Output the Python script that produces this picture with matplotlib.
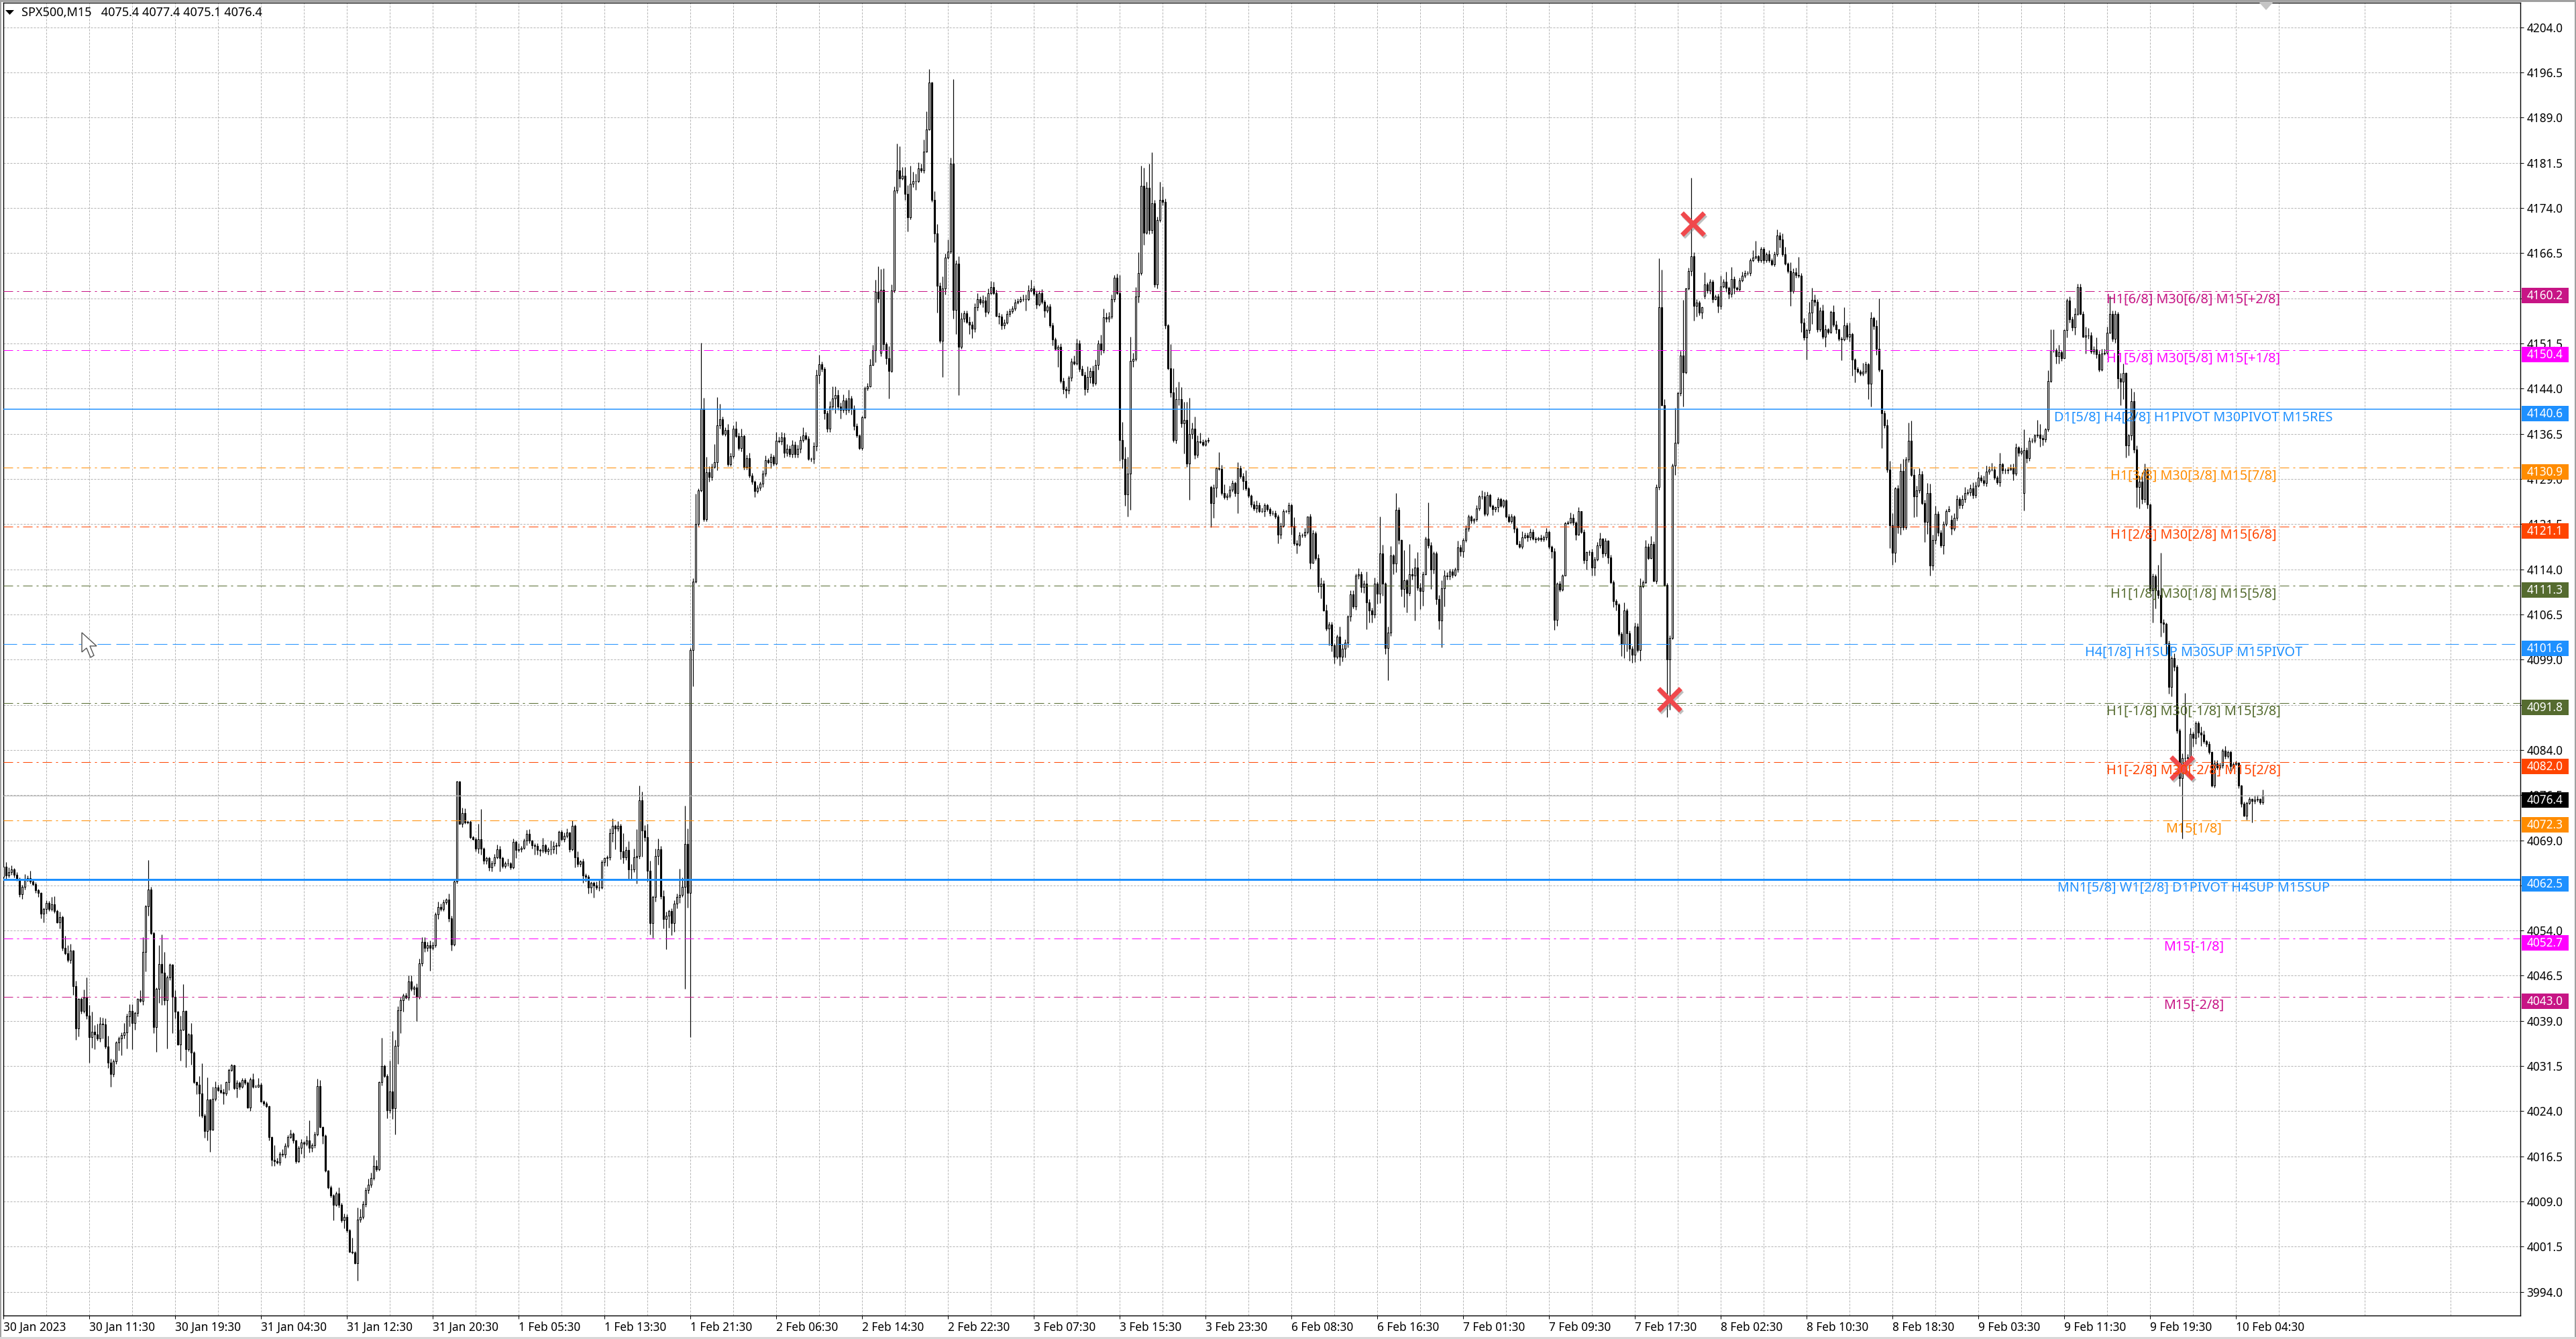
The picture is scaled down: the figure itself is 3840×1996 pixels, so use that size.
import numpy as np
import matplotlib
matplotlib.use('Agg')
import matplotlib.pyplot as plt
import matplotlib.patheffects as pe
from matplotlib.patches import Rectangle, Polygon
from matplotlib.transforms import IdentityTransform

W, H = 3840, 1996
FONT = 'Noto Sans'

# M15 closes, one row per 10 bars
closes = [
    4064.6,4063.1,4063.7,4064.2,4063.3,4062.6,4060.0,4061.3,4062.6,4062.7,
    4062.2,4061.7,4060.7,4060.3,4056.8,4057.6,4058.6,4057.6,4058.4,4057.2,
    4055.3,4056.3,4051.1,4050.2,4049.1,4050.7,4044.8,4037.8,4042.6,4040.6,
    4042.9,4039.9,4036.3,4037.2,4036.7,4036.1,4038.5,4038.4,4034.7,4032.1,
    4030.2,4032.3,4035.4,4036.1,4036.6,4037.1,4039.8,4040.7,4038.6,4040.3,
    4042.6,4042.3,4050.5,4058.0,4060.8,4053.6,4038.0,4044.3,4048.4,4047.0,
    4042.4,4046.2,4048.3,4043.0,4040.5,4035.1,4037.5,4040.7,4034.3,4036.7,
    4033.7,4028.8,4028.4,4027.0,4023.3,4020.7,4025.9,4020.9,4026.0,4027.9,
    4027.5,4027.2,4026.9,4028.8,4030.8,4031.6,4027.8,4028.7,4028.1,4029.2,
    4028.7,4024.6,4029.3,4028.1,4028.1,4028.4,4025.6,4025.3,4024.8,4019.7,
    4015.9,4015.7,4015.5,4016.9,4016.8,4018.2,4019.7,4020.3,4019.1,4015.7,
    4017.9,4018.8,4018.6,4019.2,4017.9,4018.4,4020.1,4028.2,4021.4,4019.9,
    4014.1,4011.4,4010.0,4008.5,4010.4,4008.4,4005.9,4006.4,4004.2,4000.7,
    4000.5,3998.8,4006.0,4006.5,4008.6,4010.9,4011.8,4012.9,4014.9,4014.4,
    4028.8,4031.5,4029.8,4024.2,4027.3,4024.5,4034.9,4040.8,4042.4,4043.2,
    4042.9,4045.6,4044.3,4044.6,4043.0,4048.6,4052.1,4051.1,4051.6,4051.1,
    4051.6,4056.7,4057.9,4057.6,4058.7,4059.1,4056.0,4051.7,4062.1,4078.8,
    4071.7,4073.5,4072.0,4072.1,4069.5,4069.2,4067.6,4069.2,4067.6,4065.6,
    4066.0,4064.5,4065.2,4066.2,4067.5,4066.1,4064.7,4065.2,4065.2,4064.5,
    4068.7,4067.4,4067.5,4067.7,4069.0,4070.1,4068.9,4068.2,4068.1,4067.4,
    4067.3,4068.2,4067.2,4067.5,4067.5,4068.0,4068.2,4070.4,4069.2,4069.7,
    4070.3,4067.5,4071.4,4066.2,4065.1,4065.5,4063.1,4062.9,4061.1,4061.9,
    4061.5,4061.1,4061.2,4065.4,4066.0,4066.2,4070.2,4071.4,4071.0,4071.4,
    4067.2,4066.2,4067.4,4064.1,4064.2,4066.2,4066.4,4075.6,4070.6,4069.5,
    4063.9,4055.2,4059.6,4066.4,4067.5,4059.7,4055.9,4056.5,4057.2,4055.2,
    4058.5,4059.6,4059.9,4061.3,4068.4,4060.3,4100.6,4112.0,4121.5,4127.1,
    4140.7,4122.3,4130.1,4129.3,4131.0,4131.8,4137.9,4138.9,4136.5,4137.1,
    4131.4,4132.8,4137.4,4136.1,4134.1,4136.1,4131.0,4132.5,4129.5,4128.5,
    4127.0,4127.5,4128.2,4129.9,4132.1,4131.8,4132.7,4131.5,4135.3,4135.2,
    4135.9,4133.3,4134.0,4133.1,4134.7,4133.1,4134.0,4135.4,4136.2,4135.7,
    4132.3,4132.3,4134.5,4146.3,4148.0,4147.3,4139.9,4137.3,4141.0,4142.4,
    4142.9,4141.0,4140.5,4142.0,4140.5,4142.4,4140.7,4137.8,4136.2,4134.1,
    4139.2,4144.0,4144.4,4147.9,4150.4,4160.1,4159.0,4160.4,4151.4,4149.0,
    4146.9,4160.3,4176.9,4180.2,4178.9,4179.3,4176.3,4172.4,4178.0,4178.5,
    4178.5,4180.6,4180.2,4183.4,4187.0,4194.8,4175.3,4169.8,4161.1,4151.9,
    4160.6,4165.8,4166.8,4181.4,4157.1,4164.8,4150.9,4155.6,4156.5,4155.1,
    4154.6,4153.9,4157.5,4158.8,4158.3,4158.6,4156.7,4159.9,4160.9,4159.9,
    4156.1,4155.9,4154.5,4155.0,4156.4,4156.8,4157.3,4158.3,4158.5,4158.8,
    4158.9,4158.9,4160.3,4160.6,4159.7,4158.0,4159.9,4158.4,4156.9,4157.6,
    4154.5,4152.2,4150.6,4150.9,4145.3,4143.9,4143.7,4145.8,4148.5,4148.2,
    4151.5,4147.3,4146.3,4143.9,4145.9,4146.9,4144.9,4147.9,4151.5,4150.4,
    4155.8,4155.6,4155.9,4158.8,4162.4,4159.9,4135.5,4132.3,4126.4,4129.9,
    4148.6,4148.9,4159.3,4163.2,4177.7,4169.9,4177.3,4170.3,4174.8,4161.3,
    4172.0,4175.3,4175.0,4154.5,4147.4,4143.4,4135.5,4142.2,4142.2,4138.2,
    4138.8,4131.5,4136.5,4137.3,4133.0,4135.2,4135.1,4134.7,4135.3,4135.5,
    4125.0,4127.5,4130.8,4130.7,4126.6,4126.0,4126.2,4127.2,4128.3,4126.6,
    4130.8,4129.4,4128.7,4127.4,4126.2,4124.8,4124.1,4124.7,4123.6,4123.7,
    4124.6,4124.0,4123.3,4123.3,4122.7,4119.8,4121.2,4123.6,4123.6,4124.6,
    4121.2,4118.3,4118.1,4119.6,4119.6,4120.2,4122.7,4115.1,4120.0,4115.8,
    4111.2,4111.6,4107.2,4104.1,4104.8,4101.4,4099.5,4102.8,4099.5,4100.8,
    4101.8,4106.2,4109.8,4107.8,4113.0,4113.2,4111.1,4111.6,4108.5,4107.2,
    4106.5,4111.6,4109.9,4116.6,4111.6,4100.9,4103.5,4116.3,4115.0,4123.9,
    4118.8,4110.7,4112.2,4110.1,4113.2,4113.0,4114.3,4110.9,4110.4,4113.2,
    4119.1,4118.0,4114.0,4116.6,4109.1,4105.5,4110.8,4113.0,4112.8,4113.6,
    4113.1,4114.0,4117.6,4117.0,4118.8,4120.8,4122.7,4122.1,4122.3,4124.1,
    4126.1,4126.1,4123.2,4126.3,4124.5,4124.0,4124.3,4125.6,4124.5,4125.4,
    4122.8,4122.0,4122.7,4120.8,4118.2,4117.7,4119.3,4119.6,4119.3,4120.2,
    4119.1,4119.0,4119.2,4119.0,4119.3,4120.2,4117.7,4117.0,4105.6,4111.6,
    4110.6,4113.0,4121.6,4121.8,4122.5,4121.7,4119.8,4123.6,4120.2,4115.5,
    4116.8,4116.9,4114.3,4115.6,4118.0,4119.1,4116.6,4118.7,4116.0,4111.8,
    4108.7,4108.2,4103.3,4101.6,4107.2,4103.4,4100.8,4099.8,4104.5,4100.6,
    4111.2,4111.8,4117.7,4115.9,4118.2,4112.1,4127.7,4157.5,4141.3,4111.4,
    4099.0,4102.6,4131.2,4135.0,4143.2,4149.5,4146.7,4160.6,4163.5,4166.0,
    4157.7,4158.3,4156.6,4157.5,4161.3,4160.3,4161.7,4158.9,4159.3,4157.7,
    4161.0,4161.8,4160.7,4159.7,4162.2,4160.7,4160.5,4162.0,4162.7,4163.2,
    4163.2,4165.3,4165.8,4166.0,4165.3,4167.2,4165.3,4166.3,4165.3,4164.6,
    4166.3,4169.4,4168.8,4166.3,4164.7,4163.5,4160.2,4163.3,4162.9,4162.7,
    4154.9,4152.5,4153.7,4156.6,4158.7,4158.4,4153.8,4157.0,4152.6,4153.8,
    4153.4,4156.7,4154.6,4153.8,4152.3,4152.2,4154.5,4152.6,4153.1,4148.8,
    4147.3,4146.8,4146.5,4146.8,4148.0,4144.8,4155.7,4154.4,4150.6,4147.1,
    4139.9,4137.9,4130.5,4121.3,4116.7,4127.4,4121.0,4130.3,4121.0,4132.2,
    4135.3,4129.7,4126.1,4127.1,4129.8,4125.0,4121.9,4126.7,4114.6,4118.8,
    4123.2,4120.1,4118.0,4121.5,4123.7,4124.0,4120.7,4122.5,4125.6,4124.6,
    4125.6,4126.6,4126.8,4127.4,4126.3,4127.9,4129.2,4128.8,4128.3,4130.2,
    4130.6,4130.6,4129.2,4128.4,4131.4,4130.4,4130.4,4130.6,4130.8,4129.9,
    4134.2,4133.3,4133.7,4133.8,4132.4,4135.3,4135.3,4136.2,4136.3,4135.8,
    4135.6,4137.2,4145.3,4150.4,4150.4,4149.4,4150.1,4149.1,4153.7,4158.6,
    4155.5,4154.2,4156.4,4160.8,4156.4,4152.6,4152.8,4152.8,4150.2,4150.5,
    4149.7,4147.1,4149.8,4149.9,4153.3,4156.4,4152.3,4156.4,4145.7,4145.2,
    4146.6,4134.6,4136.2,4141.9,4133.9,4127.7,4128.6,4125.6,4130.5,4124.8,
    4110.5,4112.8,4110.5,4109.7,4105.2,4104.9,4101.7,4094.5,4099.2,4097.8,
    4087.2,4079.3,4082.7,4082.7,4082.8,4086.7,4086.0,4088.4,4086.9,4086.6,
    4085.4,4085.0,4083.6,4078.1,4081.8,4081.1,4081.4,4083.9,4083.0,4083.6,
    4081.3,4081.7,4081.9,4078.1,4075.1,4073.1,4075.2,4075.8,4075.5,4075.7,
    4075.8,4075.3,4076.4,
]

# wick lengths above / below the candle body
up_wick = [
    0,.8,.8,.6,.2,.4,.2,.3,.8,.5, 1.2,.3,.3,.2,.1,.2,.4,.3,1.2,1.3,
    .3,.8,.2,2,1.4,1.1,.1,.9,.2,.3, 1.3,3.3,1.7,3.3,1.1,1.8,1.2,1,1,1.8,
    .6,.3,.2,.3,.5,1.5,.4,1.1,1.1,.2, .2,1.5,2.4,.3,4.9,.5,.2,.3,3.2,5,
    3.5,.3,.3,.1,1.1,.2,2.4,4.4,.1,.3, 1.9,.3,.2,1.4,5,.3,3.7,.1,2.1,1.1,
    .5,1,.5,.2,.3,.2,.1,.5,.2,.3, .3,.2,.3,1,.3,1.1,.3,.2,.3,.1,
    .1,2.5,.5,.4,.8,.5,.3,.6,.2,.2, .4,.6,.2,.7,3.3,.3,.5,1.2,1,.1,
    .2,.2,.3,.2,.3,1,.4,.6,.5,.2, 2.3,.3,2,1.3,.5,.5,1,.9,1.8,1,
    .1,4.7,.2,.4,5.1,10,1,.6,.5,.4, .5,1,1,.3,.6,.7,.8,.8,.5,.8,
    .5,.3,.9,.6,.4,.3,1,.5,.3,.1, .1,.9,.8,.2,.2,.2,.3,2.5,5,.2,
    .3,.3,.4,.5,.8,.6,.2,.3,.7,.2, .6,.2,1,.4,.3,.6,.7,.2,.3,.4,
    .2,1.2,.2,.3,1.5,.8,.4,.2,.3,.6, .6,.1,.9,.2,1,.2,.4,.4,.4,.3,
    .3,.7,1.2,.3,.2,.3,.8,1.2,.2,.8, .3,3,.5,1.4,.8,1.4,4.4,2.5,1.5,.9,
    2.2,1.7,.2,1.2,1.8,.5,1,.6,.3,.5, .5,.5,4.4,1.5,6.3,2.5,.3,.5,5,.3,
    10.9,1.8,2.6,1,.5,3,4.7,2.6,.5,.5, 1,.5,.5,1.2,.6,1.2,.3,.5,.8,.5,
    .3,.5,.4,.5,.8,.4,.5,.3,1.5,.7, .9,.8,.8,.6,.7,.5,.7,.7,1.4,.6,
    .4,.3,.6,.8,1.6,.5,.3,.5,.9,2, 1.5,.9,.7,1,.5,1.4,.4,.5,.4,.2,
    .3,.4,.5,1,.9,2,4.2,3.5,3.6,.3, 2,1,.7,4.5,4,1.5,1.5,1.5,3,1.5,
    1.2,1,.7,2,3,2.3,.1,1.5,1.5,.5, 2,.6,2,1,14,.5,1.2,1,.5,.5,
    .8,.6,.7,1,.5,.9,.7,.7,1,.8, .5,.5,.5,.5,.6,.5,.4,.6,.5,.5,
    .7,.7,.9,1.5,.5,.6,.4,.6,.3,.4, .5,.5,.3,.4,.6,.5,.5,.4,.6,1,
    .8,.5,.5,.5,1.8,.6,.9,.9,.5,1.5, 1.5,.8,.8,.8,.5,.7,3,3,2,2.8,
    4,1,1.5,3.5,3.3,3,1,4,8.4,.5, .6,3,2.3,.6,.2,4,4,2,3,2,
    3,3,6,1,2,1,1.5,.5,.3,.4, .3,.6,.2,2.7,.6,1.5,.4,.7,.5,.2,
    1,.4,.6,1.7,.2,.2,.5,.7,.4,.5, .4,.3,.3,.5,.5,.4,.6,.4,.3,.5,
    .3,1.4,.5,.6,.4,.7,.1,.5,.5,.3, .7,1,.6,1,.5,.5,.3,.4,1.7,.8,
    .6,.2,.7,.7,.3,1,.4,.6,2,.5, .4,1,.3,6.2,1.5,.2,1,1.5,.2,2.8,
    .4,.2,5,.2,5,1,1.5,2.5,.8,.4, .3,6,.5,.4,.4,.6,1.4,.8,.5,.5,
    .5,.3,1.1,.5,.4,.5,.4,.3,.2,.6, .2,1,.8,.6,.2,.3,.1,.4,.3,.2,
    .3,.4,.5,.3,.2,.5,1,.5,.5,.5, .4,.3,.2,.6,.3,.7,.2,.3,.5,.2,
    .5,.2,.3,.3,.9,.7,.3,.7,.1,.4, .2,.3,.5,.5,.5,1,.1,.5,.2,.4,
    .4,.4,.2,.3,1.3,.3,.4,.4,.6,.5, 1.3,.4,1.2,.6,1.3,.4,.4,8.1,6.3,1,
    .3,.4,.3,5.8,.3,.8,9.2,.1,.6,13, .7,.5,.3,.1,2,.3,.5,.4,.3,.4,
    1.7,.4,1.6,.3,2,.4,.3,.4,.7,.4, .3,.4,1.2,2.5,.2,.3,.3,.4,.7,.3,
    .5,1,.6,1,1.2,.3,1.5,.7,.8,3, .5,.8,.3,1.8,2,.9,.4,.5,1,.8,
    .3,.3,1.2,.7,.2,.3,3,.5,1.8,.2, .3,.3,.4,1.5,.5,.3,1,.2,1,8.4,
    .1,.5,1,1.5,2,.3,.6,1.3,2,.5, 3.1,3.4,1,.8,1,.5,.5,1.6,1.5,1,
    1.3,.5,.4,.5,.3,.5,.8,.8,.7,.4, .7,1,.5,.7,1,.7,1,.5,.7,1,
    .5,1.1,.5,.3,1.9,.3,.4,.4,.6,.8, .7,.3,.5,3.4,.4,.6,.5,.3,2.5,1.8,
    .5,.3,1.7,3.4,3.4,.3,1.2,.3,.1,.4, .7,.5,1,.6,.6,.4,1.5,1.3,.6,.6,
    2,.6,.8,.7,1,3,.5,.5,.3,.9, 1.5,.1,.3,2.1,1.6,.7,.9,1.5,1,.3,
    .1,.5,.4,4.2,7,.5,.3,.4,.4,.8, .3,.4,.7,10.7,.5,1,.3,.4,.4,1,
    .6,.2,.4,.2,.5,.5,.5,.3,.8,.3, .3,.3,.3,.1,.1,.3,.2,.4,.2,.7,
    .7,.2,1,
]
down_wick = [
    0,.5,.3,.4,.5,.3,.4,.7,.5,.4, .4,.2,.4,.7,.8,1.5,.8,.3,.3,.3,
    .1,1,.4,.2,.3,.5,1.5,1.9,1.4,.4, .3,.6,4.2,1.8,2.4,.4,.6,2.3,.3,.9,
    2.1,.5,.4,1.3,2.8,.5,2.7,1.7,4.3,1.1, .5,.2,.6,3.3,1.5,.2,1,4.2,2.3,5.3,
    .8,8,.4,6,1.1,.1,2.7,.1,3,.3, 2,.2,1.6,3.8,.4,1.1,1.5,3.7,.1,.3,
    .2,.3,1.7,.3,1.3,.2,.2,1.5,.5,.3, .3,.1,.6,.3,.2,.2,.1,.4,.2,.5,
    1,.8,.2,.5,.3,.5,.3,.2,.4,.3, .2,1,2.3,.3,.8,.6,.5,.2,.1,1.3,
    .2,.3,.3,2.6,.3,.4,.3,1.3,.3,.2, .2,.2,2.9,.4,.4,.5,.5,.4,.3,.4,
    .3,.5,.2,1.4,.5,1.8,4.4,3.1,3.8,1.9, .3,.5,.3,1,4,.4,.5,.6,.5,3.8,
    .3,.4,.8,.3,.4,.3,.5,1,.3,.3, .1,.5,.3,.3,.2,.1,.4,.8,1,.6,
    .5,.6,.7,.5,.3,2.3,.3,.3,.5,.4, .2,1.3,.3,.4,.2,.8,.4,.6,1.5,.8,
    .9,.4,.4,.6,.9,.7,1.3,.3,.3,.5, .3,.5,.2,1.7,.5,.5,1.2,.8,1,.8,
    2,.3,.5,.3,.7,1.3,.5,1.5,3.5,.5, 1.4,1,.5,1.6,1.6,.5,4.4,.5,4.3,.7,
    1.7,1.8,2.4,.8,1.5,.4,1.5,5,2,2, 1.4,.8,1,.3,17,2.5,24,6,.3,.3,
    .2,.3,.3,.8,.5,.2,1.4,.5,.3,.4, .3,.3,.3,.2,.3,.5,.5,.4,.3,.4,
    1,.4,.4,.5,.5,.3,1,.3,.2,.2, .5,.7,.5,.4,.5,.5,.5,.7,.3,.3,
    .2,.4,.7,.8,1.5,.5,1,.5,.5,.5, 2.5,.5,1.5,.5,.8,.5,1,.7,.3,.2,
    .3,.2,.3,.2,.1,2,.7,.5,1,1, 4.5,.2,.3,.5,1.5,.2,1,2.3,.3,.5,
    1.5,.3,.3,.4,.2,.1,.3,1.5,4.5,.3, 6,1,.3,.4,1.5,4,8,.3,.5,.3,
    1.5,1.5,.5,.5,.3,.8,.7,.3,.3,.3, .2,1.2,.7,.5,.3,.4,.3,.3,.2,.2,
    .3,2,.3,.2,.3,.7,.3,.3,1.1,.3, .3,1,.2,3,.4,.8,1.2,.6,.5,.3,
    .3,.5,.2,1,.5,1,.5,.3,.7,.8, .5,.5,.5,.3,.4,.3,3.5,1.5,1.9,3.7,
    6,1,.3,1,.3,2,.3,.6,.5,.5, .7,.3,.5,.5,.3,.8,.4,.6,1,.6,
    5,.5,6,.8,.7,.4,.2,.3,.3,.3, 4,2.5,1.5,.3,.3,.4,.5,.3,.3,.5,
    3.3,.3,1.5,.3,.3,.5,.3,.7,.2,.2, 1,.4,.4,.3,.3,1.5,.7,.2,.2,.4,
    1.4,.3,1.5,.3,.3,.3,.3,1,.2,.3, 1,2,.2,.3,2.7,1,1.1,.4,1.5,.8,
    1.4,.8,.8,.3,.5,.6,.9,1,4.5,2, 1.3,.6,1.6,1.5,2,1,5.3,.6,1.8,1.5,
    .6,1.2,3,3.3,.5,.7,7.5,.4,3,2.5, .1,.5,3.3,.7,.9,1.5,4.5,3,.5,.5,
    .5,.3,.5,.8,1,.3,.5,.5,.5,.3, .3,.5,.3,.3,.2,1,.5,.8,.2,.3,
    .3,.3,.4,.7,.1,.2,.3,.2,.7,.4, .3,.6,.3,.4,.4,.5,.3,1.2,1.7,1,
    .3,.2,.1,.2,.2,.4,1,.2,.2,.6, 1.5,.5,1.3,1.4,.2,.5,.6,.4,1,.2,
    1,1,.4,2,2.3,3,2,1.3,1.2,.4, 1.8,.2,.2,.3,.2,.2,.5,.5,.2,.2,
    9.6,8.3,.2,1.5,.2,.4,5.7,.2,.2,.7, 2.4,1.8,.4,1,.4,.5,.6,.6,.2,1.1,
    .5,.3,.6,.7,.5,1,.2,.3,.3,.3, .3,.4,.2,.3,.3,.3,.5,.3,.3,.2,
    .3,.3,1.4,.3,.2,.3,2.5,.4,.5,.3, 1.5,.4,3.7,.5,1.9,.7,.4,.3,.3,1.7,
    .3,.2,.3,.6,.4,3.5,.3,.4,.8,2.6, 2.3,.2,.3,.3,.3,2.5,3.8,.6,1,.3,
    5.8,.4,.4,3.8,2,1.5,1,1.2,.5,.4, .4,.3,3.5,3.3,.5,.2,3.4,2,1.7,.8,
    .6,.6,.4,1.5,.3,.2,1,.3,.4,.5, .5,.5,.3,.6,.5,.4,.3,.4,.4,.5,
    .4,.3,.3,.3,.6,.5,.5,.5,.2,1.1, .4,.5,.3,2.8,.7,.4,.3,.3,.3,1.5,
    1,.5,.3,.3,.4,1.3,1.3,.5,.1,1.2, .5,.6,1.2,.2,.1,.1,2.8,.5,.4,.5,
    .7,.3,.2,.2,.2,.1,.5,.7,1.7,4, 3,2,1.7,.8,.6,3.4,3.6,.7,.5,.7,
    .4,5.3,3,.5,2.4,1.4,2,1.2,1.6,.7, .4,1.3,10,1.5,.5,.3,1.5,1,.8,2,
    .3,.5,.3,.2,.3,.3,.3,.4,.5,.4, .8,.3,.3,.5,.6,.2,.7,.2,3.5,.4,
    .3,.3,.3,
]
# bars whose open sits away from the previous close
open_gaps = {0: 4062.9, 327: 4149.9, 450: 4127.6, 634: 4159.4, 726: 4122.2, 753: 4126.6}

price_ticks = [4204.0 - 7.5 * k for k in range(29)]
time_labels = ['30 Jan 2023', '30 Jan 11:30', '30 Jan 19:30', '31 Jan 04:30', '31 Jan 12:30',
               '31 Jan 20:30', '1 Feb 05:30', '1 Feb 13:30', '1 Feb 21:30', '2 Feb 06:30',
               '2 Feb 14:30', '2 Feb 22:30', '3 Feb 07:30', '3 Feb 15:30', '3 Feb 23:30',
               '6 Feb 08:30', '6 Feb 16:30', '7 Feb 01:30', '7 Feb 09:30', '7 Feb 17:30',
               '8 Feb 02:30', '8 Feb 10:30', '8 Feb 18:30', '9 Feb 03:30', '9 Feb 11:30',
               '9 Feb 19:30', '10 Feb 04:30']

level_prices = [4160.2, 4150.4, 4140.6, 4130.9, 4121.1, 4111.3, 4101.6, 4091.8, 4082.0,
                4072.3, 4062.5, 4052.7, 4043.0]
level_colors = ['#C71585', '#FF00FF', '#1E90FF', '#FF8C00', '#FF4500', '#556B2F', '#1E90FF',
                '#556B2F', '#FF4500', '#FF8C00', '#1E90FF', '#FF00FF', '#C71585']
level_texts = ['H1[6/8] M30[6/8] M15[+2/8]', 'H1[5/8] M30[5/8] M15[+1/8]',
               'D1[5/8] H4[2/8] H1PIVOT M30PIVOT M15RES', 'H1[3/8] M30[3/8] M15[7/8]',
               'H1[2/8] M30[2/8] M15[6/8]', 'H1[1/8] M30[1/8] M15[5/8]',
               'H4[1/8] H1SUP M30SUP M15PIVOT', 'H1[-1/8] M30[-1/8] M15[3/8]',
               'H1[-2/8] M30[-2/8] M15[2/8]', 'M15[1/8]',
               'MN1[5/8] W1[2/8] D1PIVOT H4SUP M15SUP', 'M15[-1/8]', 'M15[-2/8]']
dashdot = (0, (14, 6, 3, 6))
level_styles = [dashdot, dashdot, '-', dashdot, dashdot, dashdot, (0, (20, 8)), dashdot, dashdot,
                dashdot, '-', dashdot, dashdot]
level_widths = [1, 1, 1.5, 1, 1, 1, 1, 1, 1, 1, 3, 1, 1]

mark_bars = [629.5, 620.8, 811.8]
mark_prices = [4171.4, 4092.4, 4081.0]
bid_price = 4076.4
header = 'SPX500,M15   4075.4 4077.4 4075.1 4076.4'

closes = np.array(closes)
opens = np.r_[closes[0], closes[:-1]]
for k, v in open_gaps.items():
    opens[k] = v
highs = np.maximum(opens, closes) + np.array(up_wick)
lows = np.minimum(opens, closes) - np.array(down_wick)
idx = np.arange(len(closes))
px = 0.72  # one screen pixel in points

fig = plt.figure(figsize=(W / 100, H / 100), dpi=100, facecolor='white')
ax = fig.add_axes([4.5 / W, (H - 1961) / H, (3757 - 4.5) / W, (1961 - 4) / H])
ax.set_xlim((4.5 - 5) / 4, (3757 - 5) / 4)
ax.set_ylim(3990.07, 4208.09)

GRID = '#b4b4b4'
ax.set_xticks(idx[::32][:len(time_labels)], time_labels, ha='left', fontfamily=FONT, fontsize=12.4)
ax.set_xticks(np.arange(16, 940, 32), minor=True)
ax.set_yticks(price_ticks, [f'{p:.1f}' for p in price_ticks], fontfamily=FONT, fontsize=12.4)
ax.yaxis.tick_right()
ax.tick_params(axis='both', which='major', length=5 * px, width=px, color='black', pad=3)
ax.tick_params(axis='x', which='minor', length=0)
ax.grid(True, which='both', color=GRID, linewidth=px, linestyle=(0, (3, 2)), zorder=1)
ax.set_axisbelow(True)
for s in ax.spines.values():
    s.set_linewidth(px * 1.4)
    s.set_color('black')

# candles: black when close under open, white with outline otherwise
up = closes >= opens
wicks = ax.vlines(idx, lows, highs, color='black', linewidth=px * 1.2, zorder=3)
wicks.set_snap(True)
ax.bar(idx[up], (closes - opens)[up], bottom=opens[up], width=0.62, facecolor='white',
       edgecolor='black', linewidth=px * 1.1, zorder=4)
ax.bar(idx[~up], (closes - opens)[~up], bottom=opens[~up], width=0.62, facecolor='black',
       edgecolor='black', linewidth=px * 1.1, zorder=4)

ax.axhline(bid_price, color='#bdbdbd', linewidth=px * 1.2, zorder=5)
for p, c, st, lw in zip(level_prices, level_colors, level_styles, level_widths):
    ax.axhline(p, color=c, linewidth=px * lw, linestyle=st, zorder=5)

label_x = 3270
tag_left, tag_right = 3759, 3829
for p, c, t in zip(level_prices + [bid_price], level_colors + ['black'], level_texts + ['']):
    y = ax.transData.transform((0, p))[1]
    if t:
        fig.text(label_x, y - 13, t, color=c, ha='center', va='center', transform=IdentityTransform(),
                 fontfamily=FONT, fontsize=14.3, zorder=8)
    fig.add_artist(Rectangle((tag_left, y - 18), tag_right - tag_left, 23, facecolor=c, edgecolor='none',
                             transform=IdentityTransform(), zorder=9))
    fig.text(3794, y - 7, f'{p:.1f}', color='white', ha='center', va='center',
             transform=IdentityTransform(), fontfamily=FONT, fontsize=12.4, zorder=10)

# hand-drawn crosses on the chart
ax.plot(mark_bars, mark_prices, linestyle='none', marker='x', markersize=33 * px,
        markeredgewidth=7 * px, color='#F0484C', zorder=7,
        path_effects=[pe.SimpleLineShadow(offset=(1.5, -2), shadow_color='#808080', alpha=0.5), pe.Normal()])

# header, small triangles, mouse pointer and window edges
fig.text(32, H - 19, header, color='black', va='center', transform=IdentityTransform(),
         fontfamily=FONT, fontsize=13, zorder=10)
fig.add_artist(Polygon([(8, H - 15), (21, H - 15), (14.5, H - 22)], closed=True, facecolor='black',
                       edgecolor='none', transform=IdentityTransform()))
fig.add_artist(Polygon([(3368, H - 4), (3388, H - 4), (3378, H - 15)], closed=True, facecolor='#c4c4c4',
                       edgecolor='none', transform=IdentityTransform(), zorder=9))
fig.add_artist(Polygon([(122, H - 943), (122, H - 972), (129, H - 966), (135, H - 980), (140, H - 977),
                        (134, H - 963), (144, H - 963)], closed=True, facecolor='white',
                       edgecolor='#555555', linewidth=px * 1.4, transform=IdentityTransform(), zorder=9))
fig.add_artist(Rectangle((0, H - 3), W, 3, facecolor='#a0a0a0', edgecolor='none', transform=IdentityTransform()))
fig.add_artist(Rectangle((0, 0), 2, H, facecolor='#a0a0a0', edgecolor='none', transform=IdentityTransform()))
fig.add_artist(Rectangle((W - 2, 0), 2, H, facecolor='#a0a0a0', edgecolor='none', transform=IdentityTransform()))
fig.add_artist(Rectangle((0, 0), W, 3, facecolor='#d8d8d8', edgecolor='none', transform=IdentityTransform()))

fig.savefig('out.png', dpi=100)
